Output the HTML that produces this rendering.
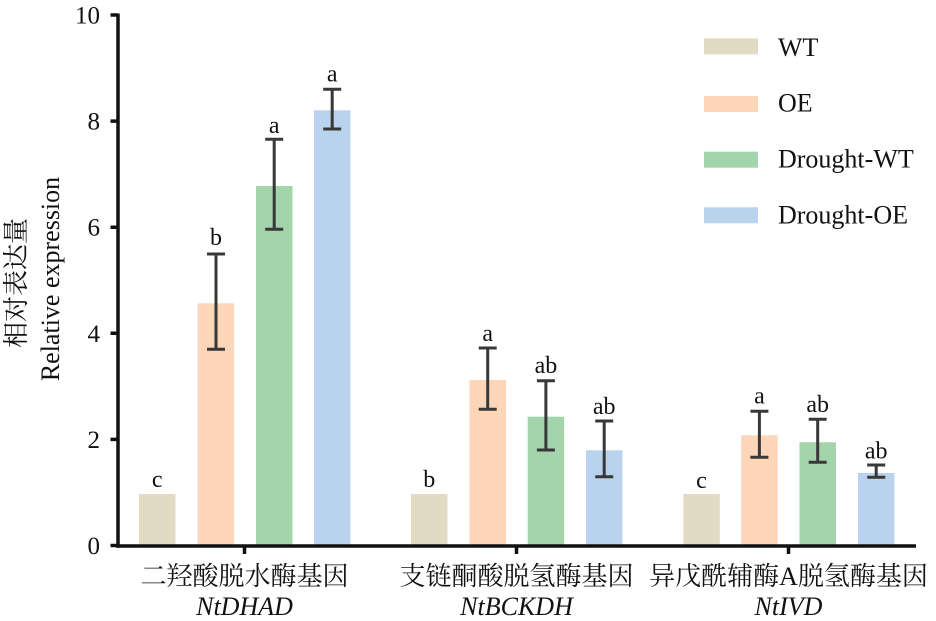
<!DOCTYPE html>
<html>
<head>
<meta charset="utf-8">
<style>
html,body{margin:0;padding:0;background:#fff;}
svg{display:block;font-family:"Liberation Serif","Noto Serif CJK SC",serif;}
svg text{font-family:"Liberation Serif","Noto Serif CJK SC",serif;fill:#111;}
</style>
</head>
<body>
<svg width="936" height="621" viewBox="0 0 936 621" xmlns="http://www.w3.org/2000/svg" font-family="'Liberation Serif', 'Noto Serif CJK SC', serif" style="font-family:'Liberation Serif','Noto Serif CJK SC',serif">
<!-- bars group 1 -->
<rect x="139" y="494" width="36.5" height="51" fill="#e2dbc4"/>
<rect x="197.7" y="303.3" width="36.5" height="241.7" fill="#fdd5b8"/>
<rect x="256" y="186" width="36.5" height="359" fill="#a3d4ac"/>
<rect x="314" y="110.3" width="36.5" height="434.7" fill="#b9d2ed"/>
<!-- group 2 -->
<rect x="411" y="494" width="36.5" height="51" fill="#e2dbc4"/>
<rect x="469.5" y="380" width="36.5" height="165" fill="#fdd5b8"/>
<rect x="527.7" y="416.7" width="36.5" height="128.3" fill="#a3d4ac"/>
<rect x="586" y="450.3" width="36.5" height="94.7" fill="#b9d2ed"/>
<!-- group 3 -->
<rect x="683.3" y="494" width="36.5" height="51" fill="#e2dbc4"/>
<rect x="741.2" y="435.3" width="36.5" height="109.7" fill="#fdd5b8"/>
<rect x="799.5" y="442.3" width="36.5" height="102.7" fill="#a3d4ac"/>
<rect x="858" y="473" width="36.5" height="72" fill="#b9d2ed"/>

<!-- error bars -->
<g stroke="#383838" stroke-width="3" fill="none">
<path d="M216 254V349.3M207 254H225M207 349.3H225"/>
<path d="M274.2 139.3V229.3M265.2 139.3H283.2M265.2 229.3H283.2"/>
<path d="M332.2 89.3V129M323.2 89.3H341.2M323.2 129H341.2"/>
<path d="M487.7 348V409.3M478.7 348H496.7M478.7 409.3H496.7"/>
<path d="M545.9 380.7V450M536.9 380.7H554.9M536.9 450H554.9"/>
<path d="M604.2 421V476.7M595.2 421H613.2M595.2 476.7H613.2"/>
<path d="M759.4 411.3V457.3M750.4 411.3H768.4M750.4 457.3H768.4"/>
<path d="M817.7 419.3V462.3M808.7 419.3H826.7M808.7 462.3H826.7"/>
<path d="M876.2 465V477.3M867.2 465H885.2M867.2 477.3H885.2"/>
</g>

<!-- significance letters -->
<g font-size="24" text-anchor="middle" font-family="'Liberation Serif', serif" style="font-family:'Liberation Serif',serif">
<text x="157.2" y="487">c</text>
<text x="216" y="245">b</text>
<text x="274.2" y="133">a</text>
<text x="332.2" y="81.5">a</text>
<text x="429.2" y="487">b</text>
<text x="487.7" y="341">a</text>
<text x="545.9" y="373">ab</text>
<text x="604.2" y="414">ab</text>
<text x="701.5" y="488">c</text>
<text x="759.4" y="403.5">a</text>
<text x="817.7" y="412">ab</text>
<text x="876.2" y="458.5">ab</text>
</g>

<!-- axes -->
<g stroke="#111" stroke-width="3.5" fill="none">
<path d="M118 13.5V547.8"/>
<path d="M116.3 546H916"/>
<path d="M110.5 15H118M110.5 121.1H118M110.5 227.2H118M110.5 333.3H118M110.5 439.4H118M110.5 545.5H118"/>
<path d="M244.5 546V554M516.5 546V554M788.5 546V554"/>
</g>

<!-- y tick labels -->
<g font-size="25" text-anchor="end" font-family="'Liberation Serif', serif" style="font-family:'Liberation Serif',serif">
<text x="100" y="23.5">10</text>
<text x="100" y="129.6">8</text>
<text x="100" y="235.7">6</text>
<text x="100" y="341.8">4</text>
<text x="100" y="447.9">2</text>
<text x="100" y="554">0</text>
</g>

<!-- y axis title -->
<text transform="translate(25,283) rotate(-90)" font-size="26" text-anchor="middle" font-family="'Noto Serif CJK SC', serif" style="font-family:'Noto Serif CJK SC',serif">相对表达量</text>
<text transform="translate(59,279) rotate(-90)" font-size="26" text-anchor="middle" font-family="'Liberation Serif', serif" style="font-family:'Liberation Serif',serif">Relative expression</text>

<!-- x labels -->
<g font-size="26" text-anchor="middle" font-family="'Liberation Serif', 'Noto Serif CJK SC', serif" style="font-family:'Liberation Serif','Noto Serif CJK SC',serif">
<text x="244.5" y="585">二羟酸脱水酶基因</text>
<text x="516.5" y="585">支链酮酸脱氢酶基因</text>
<text x="788.5" y="585">异戊酰辅酶A脱氢酶基因</text>
<text x="244.5" y="615" font-style="italic">NtDHAD</text>
<text x="516.5" y="615" font-style="italic">NtBCKDH</text>
<text x="788.5" y="615" font-style="italic">NtIVD</text>
</g>

<!-- legend -->
<rect x="704" y="38.3" width="54" height="16" fill="#e2dbc4"/>
<rect x="704" y="96" width="54" height="16" fill="#fdd5b8"/>
<rect x="704" y="151.7" width="54" height="16" fill="#a3d4ac"/>
<rect x="704" y="207.3" width="54" height="16" fill="#b9d2ed"/>
<g font-size="26" font-family="'Liberation Serif', serif" style="font-family:'Liberation Serif',serif">
<text x="778" y="56">WT</text>
<text x="778" y="111.7">OE</text>
<text x="778" y="167.7">Drought-WT</text>
<text x="778" y="223.3">Drought-OE</text>
</g>
</svg>
</body>
</html>
